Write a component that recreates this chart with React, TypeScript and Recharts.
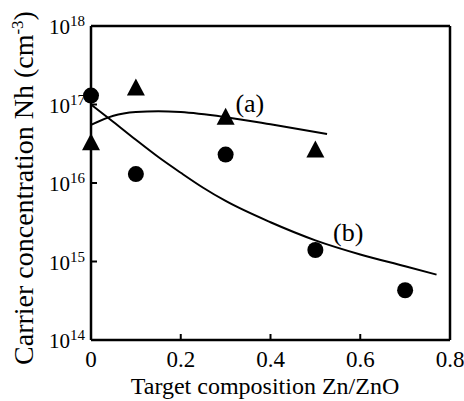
import {
  ComposedChart,
  Line,
  Scatter,
  XAxis,
  YAxis,
  ReferenceDot,
} from 'recharts';

// measured points
const triangles = [
  { x: 0, y: 3.2e16 },
  { x: 0.1, y: 1.6e17 },
  { x: 0.3, y: 6.8e16 },
  { x: 0.5, y: 2.6e16 },
];

const circles = [
  { x: 0, y: 1.3e17 },
  { x: 0.1, y: 1.3e16 },
  { x: 0.3, y: 2.3e16 },
  { x: 0.5, y: 1.4e15 },
  { x: 0.7, y: 4.3e14 },
];

// fitted curves (a) and (b)
const curveA = [
  { x: 0, y: 5.5e16 },
  { x: 0.05, y: 7.2e16 },
  { x: 0.1, y: 8.0e16 },
  { x: 0.15, y: 8.2e16 },
  { x: 0.2, y: 8.0e16 },
  { x: 0.3, y: 6.9e16 },
  { x: 0.4, y: 5.6e16 },
  { x: 0.526, y: 4.2e16 },
];

const curveB = [
  { x: 0, y: 1.0e17 },
  { x: 0.05, y: 6.0e16 },
  { x: 0.1, y: 3.55e16 },
  { x: 0.15, y: 2.14e16 },
  { x: 0.2, y: 1.35e16 },
  { x: 0.25, y: 8.7e15 },
  { x: 0.3, y: 5.9e15 },
  { x: 0.4, y: 3.16e15 },
  { x: 0.5, y: 1.86e15 },
  { x: 0.6, y: 1.23e15 },
  { x: 0.7, y: 8.7e14 },
  { x: 0.77, y: 6.8e14 },
];

const curveLabels = [
  { text: '(a)', x: 0.354, y: 1.05e17 },
  { text: '(b)', x: 0.573, y: 2.4e15 },
];

const xTicks = [0, 0.2, 0.4, 0.6, 0.8];
const yTicks = [1e14, 1e15, 1e16, 1e17, 1e18];

const FONT = '"Liberation Serif", "Times New Roman", serif';

const renderTriangle = (props: any) => {
  const { cx, cy } = props;
  return (
    <polygon
      points={`${cx},${cy - 10} ${cx - 9},${cy + 7} ${cx + 9},${cy + 7}`}
      fill="#000"
    />
  );
};

const renderCircle = (props: any) => {
  const { cx, cy } = props;
  return <circle cx={cx} cy={cy} r={8} fill="#000" />;
};

const renderXTick = (props: any) => {
  const { x, payload } = props;
  return (
    <text x={x} y={367} textAnchor="middle" fontFamily={FONT} fontSize={23} fill="#000">
      {payload.value}
    </text>
  );
};

const renderYTick = (props: any) => {
  const { y, payload } = props;
  const exp = Math.round(Math.log10(payload.value));
  return (
    <text x={85} y={y + 8} textAnchor="end" fontFamily={FONT} fontSize={21} fill="#000">
      10
      <tspan dy={-8} fontSize={15}>{exp}</tspan>
    </text>
  );
};

const renderYLabel = () => (
  <text
    x={33}
    y={188}
    transform="rotate(-90 33 188)"
    textAnchor="middle"
    fontFamily={FONT}
    fontSize={28}
    fill="#000"
  >
    Carrier concentration Nh (cm
    <tspan dy={-10} fontSize={17}>-3</tspan>
    <tspan dy={10}>)</tspan>
  </text>
);

const renderXLabel = () => (
  <text x={265} y={394} textAnchor="middle" fontFamily={FONT} fontSize={24} fill="#000">
    Target composition Zn/ZnO
  </text>
);

const renderCurveLabel = (text: string) => (props: any) => {
  const { viewBox } = props;
  return (
    <text
      x={viewBox.x}
      y={viewBox.y + 9}
      textAnchor="middle"
      fontFamily={FONT}
      fontSize={26}
      fill="#000"
    >
      {text}
    </text>
  );
};

export default function App() {
  return (
    <div style={{ position: 'absolute', left: 0, top: 0, background: '#fff' }}>
      <ComposedChart
        width={464}
        height={401}
        margin={{ top: 25, right: 13, bottom: 60, left: 0 }}
      >
        <XAxis
          dataKey="x"
          type="number"
          domain={[0, 0.8]}
          ticks={xTicks}
          height={1}
          tickSize={-6}
          tickMargin={6}
          tick={renderXTick}
          axisLine={{ stroke: '#000', strokeWidth: 2.5 }}
          tickLine={{ stroke: '#000', strokeWidth: 2 }}
          label={renderXLabel}
        />
        <XAxis
          xAxisId="top"
          orientation="top"
          dataKey="x"
          type="number"
          domain={[0, 0.8]}
          height={1}
          tick={false}
          tickLine={false}
          axisLine={{ stroke: '#000', strokeWidth: 2.5 }}
        />
        <YAxis
          dataKey="y"
          type="number"
          scale="log"
          domain={[1e14, 1e18]}
          allowDataOverflow
          ticks={yTicks}
          width={91}
          tickSize={-6}
          tickMargin={12}
          tick={renderYTick}
          axisLine={{ stroke: '#000', strokeWidth: 2.5 }}
          tickLine={{ stroke: '#000', strokeWidth: 2 }}
          label={renderYLabel}
        />
        <YAxis
          yAxisId="right"
          orientation="right"
          dataKey="y"
          type="number"
          domain={[0, 1]}
          width={1}
          tick={false}
          tickLine={false}
          axisLine={{ stroke: '#000', strokeWidth: 2.5 }}
        />
        <Line
          data={curveA}
          dataKey="y"
          type="monotone"
          stroke="#000"
          strokeWidth={2}
          dot={false}
          activeDot={false}
          isAnimationActive={false}
        />
        <Line
          data={curveB}
          dataKey="y"
          type="monotone"
          stroke="#000"
          strokeWidth={2}
          dot={false}
          activeDot={false}
          isAnimationActive={false}
        />
        <Scatter data={triangles} dataKey="y" shape={renderTriangle} isAnimationActive={false} />
        <Scatter data={circles} dataKey="y" shape={renderCircle} isAnimationActive={false} />
        {curveLabels.map((l) => (
          <ReferenceDot
            key={l.text}
            x={l.x}
            y={l.y}
            r={0}
            fill="none"
            stroke="none"
            label={renderCurveLabel(l.text)}
          />
        ))}
      </ComposedChart>
    </div>
  );
}
